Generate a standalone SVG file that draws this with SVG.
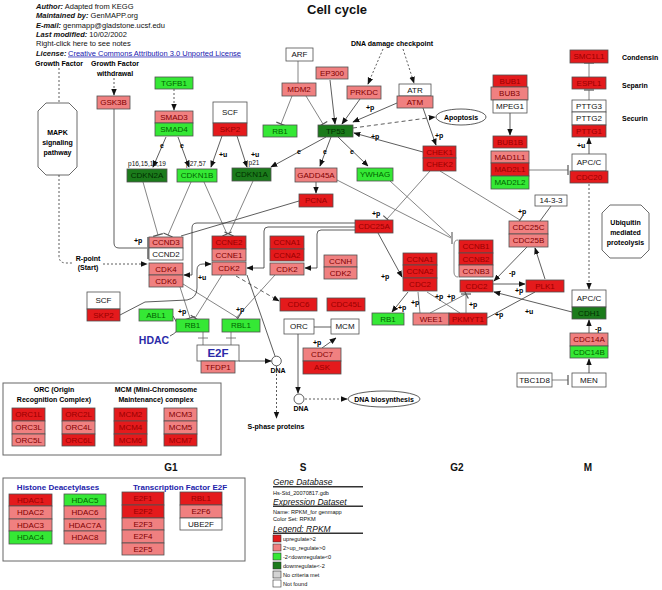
<svg xmlns="http://www.w3.org/2000/svg" width="662" height="590" viewBox="0 0 662 590">
<style>
text{font-family:"Liberation Sans",Arial,sans-serif}
.n rect{stroke:#505050;stroke-width:0.8}
.n text{font-size:8px;text-anchor:middle}
.r rect{fill:#E41A1C}.r text{fill:#990000}
.s rect{fill:#F08080}.s text{fill:#800000}
.g rect{fill:#35E835}.g text{fill:#006400}
.d rect{fill:#1B7B1B}.d text{fill:#003000}
.w rect{fill:#ffffff}.w text{fill:#111}
.c{fill:none;stroke:#333;stroke-width:0.8}
.gl{stroke:#666}
.dot{stroke-dasharray:2,2}
.dash{stroke-dasharray:4,3}
.lb{font-size:7px;font-weight:bold;fill:#000}
.lbc{font-size:7px;font-weight:bold;fill:#000;text-anchor:middle}
.sm{font-size:6.5px;fill:#111;text-anchor:middle}
.hd{font-size:7.5px;fill:#111}
.bi{font-weight:bold;font-style:italic}
.ph{font-size:10px;font-weight:bold;text-anchor:middle;fill:#111}
.bt{font-size:8px;font-weight:bold;fill:#2222AA;text-anchor:middle}
.lg{font-size:8.5px;font-style:italic;fill:#111}
.ls{font-size:5.6px;fill:#111}
.box{fill:none;stroke:#666;stroke-width:1}
</style>
<defs>
<marker id="arr" viewBox="0 0 10 10" refX="9" refY="5" markerWidth="7" markerHeight="7" orient="auto" markerUnits="userSpaceOnUse"><path d="M0,1 L10,5 L0,9 z" fill="#111"/></marker>
<marker id="tee" viewBox="-2 -6 4 12" refX="0" refY="0" markerWidth="4" markerHeight="12" orient="auto" markerUnits="userSpaceOnUse"><path d="M0,-5 V5" stroke="#555" stroke-width="1.2"/></marker>
</defs>
<rect width="662" height="590" fill="#fff"/>

<!-- header -->
<text x="337" y="14" font-size="13" font-weight="bold" text-anchor="middle" fill="#111">Cell cycle</text>
<text class="hd" x="36" y="9"><tspan class="bi">Author:</tspan> Adapted from KEGG</text>
<text class="hd" x="36" y="18.3"><tspan class="bi">Maintained by:</tspan> GenMAPP.org</text>
<text class="hd" x="36" y="27.6"><tspan class="bi">E-mail:</tspan> genmapp@gladstone.ucsf.edu</text>
<text class="hd" x="36" y="37"><tspan class="bi">Last modified:</tspan> 10/02/2002</text>
<text class="hd" x="36" y="46.3">Right-click here to see notes</text>
<text class="hd" x="36" y="55.6"><tspan class="bi">License:</tspan></text>
<text class="hd" x="68" y="55.6" style="fill:#2020B0" text-decoration="underline">Creative Commons Attribution 3.0 Unported License</text>

<!-- free labels -->
<text class="lbc" x="59" y="66">Growth Factor</text>
<text class="lbc" x="115" y="66">Growth Factor</text>
<text class="lbc" x="115" y="76">withdrawal</text>
<text class="lbc" x="392" y="46">DNA damage checkpoint</text>
<text class="lb" x="622" y="60">Condensin</text>
<text class="lb" x="622" y="88">Separin</text>
<text class="lb" x="622" y="121">Securin</text>
<text class="lbc" x="88" y="261">R-point</text>
<text class="lbc" x="88" y="270">(Start)</text>
<text class="sm" x="147" y="166">p16,15,18,19</text>
<text class="sm" x="196" y="166">p27,57</text>
<text class="sm" x="254" y="165">p21</text>
<text x="154" y="344" font-size="10.5" font-weight="bold" fill="#2A2AA8" text-anchor="middle">HDAC</text>
<text class="lbc" x="278" y="373">DNA</text>
<text class="lbc" x="301" y="411">DNA</text>
<text class="lbc" x="276" y="429">S-phase proteins</text>

<g id="mapk"><path d="M46,103 H69 L77,111 V167 L69,175 H46 L38,167 V111 Z" fill="#fff" stroke="#444" stroke-width="0.8"/>
<text class="lbc" x="57.5" y="135">MAPK</text><text class="lbc" x="57.5" y="145">signaling</text><text class="lbc" x="57.5" y="155">pathway</text></g>
<g id="ubiq"><path d="M610,205 H641 L649,213 V250 L641,258 H610 L602,250 V213 Z" fill="#fff" stroke="#444" stroke-width="0.8"/>
<text class="lbc" x="625.5" y="225">Ubiquitin</text><text class="lbc" x="625.5" y="235">mediated</text><text class="lbc" x="625.5" y="245">proteolysis</text></g>
<g id="apoptosis"><ellipse cx="461" cy="117" rx="25" ry="8" fill="#fff" stroke="#333" stroke-width="0.8"/><text class="lbc" x="461" y="120">Apoptosis</text></g>
<g id="dnabio"><ellipse cx="384" cy="399" rx="36" ry="8" fill="#fff" stroke="#333" stroke-width="0.8"/><text class="lbc" x="384" y="402">DNA biosynthesis</text></g>
<g id="dna1"><circle cx="276.5" cy="361" r="4.8" fill="#fff" stroke="#333" stroke-width="0.8"/></g>
<g id="dna2"><circle cx="299" cy="399" r="5" fill="#fff" stroke="#333" stroke-width="0.8"/></g>

<!-- connectors -->
<g id="connectors">
<path class="c dot" d="M59,68 V102"/>
<path class="c dot" d="M114,78 V95" marker-end="url(#arr)"/>
<path class="c dot" d="M174,89 V110" marker-end="url(#arr)"/>
<path class="c dot" d="M59,175 V256 Q59,263 66,263 H73"/>
<path class="c dot" d="M103,264 H147" marker-end="url(#arr)"/>
<path class="c" d="M114,109 V243 Q114,248 119,248 H147"/>
<path d="M148,237 V259" stroke="#888" stroke-width="2" fill="none"/>
<path class="c" d="M166,137 L153,167" marker-end="url(#arr)"/>
<path class="c" d="M178,137 L189,167" marker-end="url(#arr)"/>
<path class="c" d="M222,136 L211,167" marker-end="url(#arr)"/>
<path class="c" d="M237,136 L247,167" marker-end="url(#arr)"/>
<path class="c gl" d="M298,61 V83"/>
<path class="c gl" d="M292,96 L281,124" marker-end="url(#tee)"/>
<path class="c gl" d="M306,96 L323,124" marker-end="url(#tee)"/>
<path class="c" d="M330,80 L335,124" marker-end="url(#arr)"/>
<path class="c" d="M360,99 L342,124" marker-end="url(#arr)"/>
<path class="c dot" d="M383,49 L368,84" marker-end="url(#arr)"/>
<path class="c dot" d="M403,49 L414,83" marker-end="url(#arr)"/>
<path class="c" d="M397,103 L353,122" marker-end="url(#arr)"/>
<path class="c dash" d="M353,128 L435,117" marker-end="url(#arr)"/>
<path class="c" d="M423,152 L354,133" marker-end="url(#arr)"/>
<path class="c" d="M423,108 L436,145" marker-end="url(#arr)"/>
<path class="c" d="M326,137 L271,167" marker-end="url(#arr)"/>
<path class="c" d="M331,137 L320,166" marker-end="url(#arr)"/>
<path class="c" d="M338,137 L368,166" marker-end="url(#arr)"/>
<path class="c" d="M316,182 V193" marker-end="url(#arr)"/>
<path class="c" d="M299,201 L181,236"/>
<path class="c gl" d="M143,182 L158,235" marker-end="url(#tee)"/>
<path class="c gl" d="M191,182 L168,235" marker-end="url(#tee)"/>
<path class="c gl" d="M204,182 L227,234" marker-end="url(#tee)"/>
<path class="c gl" d="M253,181 L229,234" marker-end="url(#tee)"/>
<path class="c" d="M355,223 H197 Q192,223 192,228 V275 H184" marker-end="url(#arr)"/>
<path class="c" d="M355,227 H268 Q264,227 264,231 V268 H247" marker-end="url(#arr)"/>
<path class="c" d="M355,230 H321 Q317,230 317,234 V268 H305" marker-end="url(#arr)"/>
<path class="c" d="M378,233 L402,277" marker-end="url(#arr)"/>
<path class="c gl" d="M430,171 L387,219" marker-end="url(#tee)"/>
<path class="c gl" d="M440,171 L520,220" marker-end="url(#tee)"/>
<path class="c gl" d="M337,180 L451,238"/>
<path class="c gl" d="M390,181 L451,237"/>
<path d="M452,232 V244" stroke="#666" stroke-width="1.2" fill="none"/>
<path d="M458,240 Q454,240 454,245 V272 Q454,277 458,277" stroke="#888" stroke-width="1" fill="none"/>
<path class="c" d="M551,206 L540,221"/>
<path class="c" d="M527,247 L494,281" marker-end="url(#arr)"/>
<path class="c" d="M545,279 L535,248" marker-end="url(#arr)"/>
<path class="c" d="M493,284 H525" marker-end="url(#arr)"/>
<path class="c" d="M572,312 L494,292" marker-end="url(#arr)"/>
<path class="c" d="M487,318 L535,292"/>
<path class="c gl" d="M430,313 L466,294" marker-end="url(#tee)"/>
<path class="c gl" d="M466,313 V294" marker-end="url(#tee)"/>
<path class="c gl" d="M460,313 L427,292"/>
<path class="c gl" d="M420,313 L418,292"/>
<path class="c" d="M408,292 L392,312" marker-end="url(#arr)"/>
<path class="c dash" d="M236,276 L279,301" marker-end="url(#arr)"/>
<path class="c" d="M247,275 L275,356"/>
<path class="c gl" d="M183,284 L238,318" marker-end="url(#tee)"/>
<path class="c gl" d="M180,287 L190,318" marker-end="url(#tee)"/>
<path class="c gl" d="M222,275 L195,318" marker-end="url(#tee)"/>
<path class="c gl" d="M275,275 L236,318"/>
<path class="c" d="M120,315 L145,302 L187,300 Q197,298 197,288 V270 Q197,264 203,264 H211" marker-end="url(#arr)"/>
<path class="c" d="M173,316 L177,323"/>
<path class="c" d="M170,336 Q174,334 177,331"/>
<path class="c gl" d="M203,332 V345 M198,338 H208"/>
<path class="c gl" d="M231,332 V345 M226,338 H236"/>
<path class="c" d="M239,361 H271" marker-end="url(#arr)"/>
<path class="c dot" d="M276.5,366 V418" marker-end="url(#arr)"/>
<path class="c" d="M314,327 H331"/>
<path class="c" d="M322,348 L336,338" marker-end="url(#arr)"/>
<path class="c" d="M298,334 V393" marker-end="url(#arr)"/>
<path class="c dot" d="M305,399 H347" marker-end="url(#arr)"/>
<path class="c gl" d="M529,170 H568" marker-end="url(#tee)"/>
<path class="c" d="M510,113 V135" marker-end="url(#arr)"/>
<path class="c gl" d="M589,77 V63" marker-end="url(#tee)"/>
<path class="c gl" d="M589,100 V90" marker-end="url(#tee)"/>
<path class="c" d="M589,154 V138" marker-end="url(#arr)"/>
<path class="c dot" d="M589,184 V289" marker-end="url(#arr)"/>
<path class="c" d="M589,333 V320" marker-end="url(#arr)"/>
<path class="c" d="M589,373 V359" marker-end="url(#arr)"/>
<path class="c gl" d="M552,380 H568" marker-end="url(#tee)"/>
</g>

<!-- edge labels -->
<g id="edge-labels" fill="#000">
<text class="lb" x="160" y="148">e</text>
<text class="lb" x="180" y="148">e</text>
<text class="lb" x="219" y="157">+u</text>
<text class="lb" x="251" y="157">+u</text>
<text class="lb" x="297" y="154">e</text>
<text class="lb" x="323" y="154">e</text>
<text class="lb" x="350" y="154">e</text>
<text class="lb" x="366" y="110">+p</text>
<text class="lb" x="371" y="139">+p</text>
<text class="lb" x="435" y="138">+p</text>
<text class="lb" x="134" y="243">+p</text>
<text class="lb" x="372" y="216">+p</text>
<text class="lb" x="381" y="279">+p</text>
<text class="lb" x="518" y="214">+p</text>
<text class="lb" x="509" y="275">-p</text>
<text class="lb" x="515" y="293">+p</text>
<text class="lb" x="525" y="314">+u</text>
<text class="lb" x="198" y="280">+u</text>
<text class="lb" x="178" y="314">+p</text>
<text class="lb" x="236" y="312">+p</text>
<text class="lb" x="313" y="345">+p</text>
<text class="lb" x="398" y="310">+p</text>
<text class="lb" x="411" y="305">+p</text>
<text class="lb" x="435" y="299">+p</text>
<text class="lb" x="447" y="299">+p</text>
<text class="lb" x="469" y="307">+p</text>
<text class="lb" x="495" y="317">+p</text>
<text class="lb" x="577" y="148">+u</text>
<text class="lb" x="595" y="331">-p</text>
</g>

<!-- nodes -->
<g id="GSK3B" class="n s"><rect x="97" y="96" width="33" height="13"/><text x="113.5" y="105.3">GSK3B</text></g>
<g id="TGFB1" class="n g"><rect x="155" y="77" width="38" height="12"/><text x="174" y="85.8">TGFB1</text></g>
<g id="SMAD3" class="n s"><rect x="155" y="111" width="38" height="12"/><text x="174" y="119.8">SMAD3</text></g>
<g id="SMAD4" class="n g"><rect x="155" y="123" width="38" height="13"/><text x="174" y="132.3">SMAD4</text></g>
<g id="SCF1" class="n w"><rect x="213" y="102" width="34" height="21"/><text x="230" y="115.3">SCF</text></g>
<g id="SKP2a" class="n r"><rect x="213" y="123" width="34" height="13"/><text x="230" y="132.3">SKP2</text></g>
<g id="ARF" class="n w"><rect x="286" y="48" width="27" height="13"/><text x="299.5" y="57.3">ARF</text></g>
<g id="MDM2" class="n s"><rect x="282" y="83" width="34" height="13"/><text x="299" y="92.3">MDM2</text></g>
<g id="EP300" class="n s"><rect x="316" y="67" width="32" height="12"/><text x="332" y="75.8">EP300</text></g>
<g id="PRKDC" class="n s"><rect x="347" y="86" width="34" height="13"/><text x="364" y="95.3">PRKDC</text></g>
<g id="ATR" class="n w"><rect x="399" y="84" width="32" height="12"/><text x="415" y="92.8">ATR</text></g>
<g id="ATM" class="n s"><rect x="397" y="96" width="36" height="12"/><text x="415" y="104.8">ATM</text></g>
<g id="RB1a" class="n g"><rect x="263" y="125" width="34" height="12"/><text x="280" y="133.8">RB1</text></g>
<g id="TP53" class="n d"><rect x="318" y="125" width="35" height="12"/><text x="335.5" y="133.8">TP53</text></g>
<g id="BUB1" class="n r"><rect x="493" y="75" width="34" height="12"/><text x="510" y="83.8">BUB1</text></g>
<g id="BUB3" class="n s"><rect x="491" y="87" width="37" height="13"/><text x="509.5" y="96.3">BUB3</text></g>
<g id="MPEG1" class="n w"><rect x="493" y="100" width="34" height="13"/><text x="510" y="109.3">MPEG1</text></g>
<g id="BUB1B" class="n r"><rect x="493" y="136" width="34" height="12"/><text x="510" y="144.8">BUB1B</text></g>
<g id="SMC1L1" class="n r"><rect x="570" y="50" width="38" height="13"/><text x="589" y="59.3">SMC1L1</text></g>
<g id="ESPL1" class="n r"><rect x="572" y="77" width="34" height="12"/><text x="589" y="85.8">ESPL1</text></g>
<g id="PTTG3" class="n w"><rect x="572" y="100" width="34" height="12"/><text x="589" y="108.8">PTTG3</text></g>
<g id="PTTG2" class="n w"><rect x="572" y="112" width="34" height="13"/><text x="589" y="121.3">PTTG2</text></g>
<g id="PTTG1" class="n r"><rect x="572" y="125" width="34" height="12"/><text x="589" y="133.8">PTTG1</text></g>
<g id="APCC1" class="n w"><rect x="572" y="154" width="34" height="17"/><text x="589" y="165.3">APC/C</text></g>
<g id="CDC20" class="n r"><rect x="570" y="171" width="38" height="12"/><text x="589" y="179.8">CDC20</text></g>
<g id="CHEK1" class="n r"><rect x="423" y="146" width="33" height="12"/><text x="439.5" y="154.8">CHEK1</text></g>
<g id="CHEK2" class="n r"><rect x="423" y="158" width="33" height="13"/><text x="439.5" y="167.3">CHEK2</text></g>
<g id="MAD1L1" class="n s"><rect x="491" y="151" width="38" height="12"/><text x="510" y="159.8">MAD1L1</text></g>
<g id="MAD2L1" class="n r"><rect x="491" y="163" width="38" height="13"/><text x="510" y="172.3">MAD2L1</text></g>
<g id="MAD2L2" class="n g"><rect x="491" y="176" width="38" height="13"/><text x="510" y="185.3">MAD2L2</text></g>
<g id="CDKN2A" class="n d"><rect x="127" y="169" width="40" height="13"/><text x="147" y="178.3">CDKN2A</text></g>
<g id="CDKN1B" class="n g"><rect x="177" y="169" width="40" height="13"/><text x="197" y="178.3">CDKN1B</text></g>
<g id="CDKN1A" class="n d"><rect x="232" y="168" width="39" height="13"/><text x="251.5" y="177.3">CDKN1A</text></g>
<g id="GADD45A" class="n s"><rect x="295" y="168" width="42" height="14"/><text x="316" y="177.8">GADD45A</text></g>
<g id="YWHAG" class="n g"><rect x="357" y="168" width="36" height="13"/><text x="375" y="177.3">YWHAG</text></g>
<g id="PCNA" class="n r"><rect x="299" y="194" width="34" height="13"/><text x="316" y="203.3">PCNA</text></g>
<g id="CDC25A" class="n r"><rect x="355" y="220" width="38" height="13"/><text x="374" y="229.3">CDC25A</text></g>
<g id="n14-3-3" class="n w"><rect x="535" y="195" width="32" height="11"/><text x="551" y="203.3">14-3-3</text></g>
<g id="CDC25C" class="n s"><rect x="509" y="221" width="39" height="13"/><text x="528.5" y="230.3">CDC25C</text></g>
<g id="CDC25B" class="n s"><rect x="509" y="234" width="39" height="13"/><text x="528.5" y="243.3">CDC25B</text></g>
<g id="CCND3" class="n s"><rect x="149" y="237" width="34" height="11"/><text x="166" y="245.3">CCND3</text></g>
<g id="CCND2" class="n w"><rect x="149" y="248" width="34" height="12"/><text x="166" y="256.8">CCND2</text></g>
<g id="CDK4" class="n s"><rect x="149" y="263" width="34" height="12"/><text x="166" y="271.8">CDK4</text></g>
<g id="CDK6" class="n s"><rect x="149" y="275" width="34" height="12"/><text x="166" y="283.8">CDK6</text></g>
<g id="CCNE2" class="n r"><rect x="212" y="236" width="34" height="13"/><text x="229" y="245.3">CCNE2</text></g>
<g id="CCNE1" class="n s"><rect x="212" y="249" width="34" height="12"/><text x="229" y="257.8">CCNE1</text></g>
<g id="CDK2e" class="n s"><rect x="212" y="262" width="34" height="13"/><text x="229" y="271.3">CDK2</text></g>
<g id="CCNA1m" class="n r"><rect x="270" y="236" width="34" height="13"/><text x="287" y="245.3">CCNA1</text></g>
<g id="CCNA2m" class="n r"><rect x="270" y="249" width="34" height="12"/><text x="287" y="257.8">CCNA2</text></g>
<g id="CDK2a" class="n s"><rect x="270" y="263" width="34" height="12"/><text x="287" y="271.8">CDK2</text></g>
<g id="CCNH" class="n s"><rect x="324" y="255" width="33" height="12"/><text x="340.5" y="263.8">CCNH</text></g>
<g id="CDK2h" class="n s"><rect x="324" y="267" width="33" height="12"/><text x="340.5" y="275.8">CDK2</text></g>
<g id="CCNA1r" class="n r"><rect x="403" y="253" width="34" height="12"/><text x="420" y="261.8">CCNA1</text></g>
<g id="CCNA2r" class="n r"><rect x="403" y="265" width="34" height="13"/><text x="420" y="274.3">CCNA2</text></g>
<g id="CDC2a" class="n r"><rect x="403" y="278" width="34" height="13"/><text x="420" y="287.3">CDC2</text></g>
<g id="CCNB1" class="n r"><rect x="459" y="240" width="34" height="13"/><text x="476" y="249.3">CCNB1</text></g>
<g id="CCNB2" class="n r"><rect x="459" y="253" width="34" height="12"/><text x="476" y="261.8">CCNB2</text></g>
<g id="CCNB3" class="n s"><rect x="459" y="265" width="34" height="12"/><text x="476" y="273.8">CCNB3</text></g>
<g id="CDC2b" class="n r"><rect x="460" y="280" width="33" height="12"/><text x="476.5" y="288.8">CDC2</text></g>
<g id="PLK1" class="n r"><rect x="526" y="280" width="38" height="12"/><text x="545" y="288.8">PLK1</text></g>
<g id="RB1r" class="n g"><rect x="372" y="313" width="32" height="12"/><text x="388" y="321.8">RB1</text></g>
<g id="WEE1" class="n s"><rect x="413" y="313" width="36" height="12"/><text x="431" y="321.8">WEE1</text></g>
<g id="PKMYT1" class="n r"><rect x="449" y="313" width="38" height="12"/><text x="468" y="321.8">PKMYT1</text></g>
<g id="CDC6" class="n r"><rect x="280" y="298" width="37" height="13"/><text x="298.5" y="307.3">CDC6</text></g>
<g id="CDC45L" class="n r"><rect x="327" y="298" width="38" height="13"/><text x="346" y="307.3">CDC45L</text></g>
<g id="ORC" class="n w"><rect x="284" y="319" width="30" height="15"/><text x="299" y="329.3">ORC</text></g>
<g id="MCM" class="n w"><rect x="331" y="319" width="28" height="15"/><text x="345" y="329.3">MCM</text></g>
<g id="CDC7" class="n s"><rect x="303" y="348" width="38" height="13"/><text x="322" y="357.3">CDC7</text></g>
<g id="ASK" class="n r"><rect x="303" y="361" width="38" height="13"/><text x="322" y="370.3">ASK</text></g>
<g id="SCF2" class="n w"><rect x="87" y="292" width="33" height="17"/><text x="103.5" y="303.3">SCF</text></g>
<g id="SKP2b" class="n r"><rect x="87" y="309" width="33" height="12"/><text x="103.5" y="317.8">SKP2</text></g>
<g id="ABL1" class="n g"><rect x="139" y="309" width="34" height="12"/><text x="156" y="317.8">ABL1</text></g>
<g id="RB1l" class="n g"><rect x="176" y="319" width="33" height="13"/><text x="192.5" y="328.3">RB1</text></g>
<g id="RBL1" class="n g"><rect x="222" y="319" width="38" height="13"/><text x="241" y="328.3">RBL1</text></g>
<g id="E2F" class="n w"><rect x="197" y="345" width="42" height="16"/><text x="218" y="357.2" style="font-size:11.5px;font-weight:bold;fill:#2A2AA8">E2F</text></g>
<g id="TFDP1" class="n s"><rect x="201" y="361" width="34" height="12"/><text x="218" y="369.8">TFDP1</text></g>
<g id="APCC2" class="n w"><rect x="572" y="290" width="34" height="17"/><text x="589" y="301.3">APC/C</text></g>
<g id="CDH1" class="n d"><rect x="572" y="307" width="34" height="12"/><text x="589" y="315.8">CDH1</text></g>
<g id="CDC14A" class="n s"><rect x="570" y="333" width="38" height="13"/><text x="589" y="342.3">CDC14A</text></g>
<g id="CDC14B" class="n g"><rect x="570" y="346" width="38" height="12"/><text x="589" y="354.8">CDC14B</text></g>
<g id="MEN" class="n w"><rect x="572" y="373" width="34" height="14"/><text x="589" y="382.8">MEN</text></g>
<g id="TBC1D8" class="n w"><rect x="517" y="373" width="35" height="14"/><text x="534.5" y="382.8">TBC1D8</text></g>

<!-- ORC/MCM box -->
<g id="orcmcm-box">
<rect class="box" x="3" y="383" width="218" height="72"/>
<text class="lbc" x="54" y="392">ORC (Origin</text>
<text class="lbc" x="54" y="402">Recognition Complex)</text>
<text class="lbc" x="156" y="392">MCM (Mini-Chromosome</text>
<text class="lbc" x="156" y="402">Maintenance) complex</text>
</g>
<g id="ORC1L" class="n r"><rect x="12" y="408" width="33" height="13"/><text x="28.5" y="417.3">ORC1L</text></g>
<g id="ORC3L" class="n s"><rect x="12" y="421" width="33" height="13"/><text x="28.5" y="430.3">ORC3L</text></g>
<g id="ORC5L" class="n s"><rect x="12" y="434" width="33" height="12"/><text x="28.5" y="442.8">ORC5L</text></g>
<g id="ORC2L" class="n r"><rect x="62" y="408" width="33" height="13"/><text x="78.5" y="417.3">ORC2L</text></g>
<g id="ORC4L" class="n s"><rect x="62" y="421" width="33" height="13"/><text x="78.5" y="430.3">ORC4L</text></g>
<g id="ORC6L" class="n r"><rect x="62" y="434" width="33" height="12"/><text x="78.5" y="442.8">ORC6L</text></g>
<g id="MCM2" class="n r"><rect x="114" y="408" width="33" height="13"/><text x="130.5" y="417.3">MCM2</text></g>
<g id="MCM4" class="n r"><rect x="114" y="421" width="33" height="13"/><text x="130.5" y="430.3">MCM4</text></g>
<g id="MCM6" class="n r"><rect x="114" y="434" width="33" height="12"/><text x="130.5" y="442.8">MCM6</text></g>
<g id="MCM3" class="n s"><rect x="164" y="408" width="33" height="13"/><text x="180.5" y="417.3">MCM3</text></g>
<g id="MCM5" class="n s"><rect x="164" y="421" width="33" height="13"/><text x="180.5" y="430.3">MCM5</text></g>
<g id="MCM7" class="n r"><rect x="164" y="434" width="33" height="12"/><text x="180.5" y="442.8">MCM7</text></g>

<!-- phases -->
<text class="ph" x="171" y="471">G1</text>
<text class="ph" x="303" y="471">S</text>
<text class="ph" x="457" y="471">G2</text>
<text class="ph" x="588" y="471">M</text>

<!-- HDAC / E2F box -->
<g id="hdac-box">
<rect class="box" x="3" y="478" width="242" height="83"/>
<text class="bt" x="58" y="490">Histone Deacetylases</text>
<text class="bt" x="180" y="490">Transcription Factor E2F</text>
</g>
<g id="HDAC1" class="n r"><rect x="9" y="494" width="43" height="12"/><text x="30.5" y="502.8">HDAC1</text></g>
<g id="HDAC2" class="n s"><rect x="9" y="506" width="43" height="13"/><text x="30.5" y="515.3">HDAC2</text></g>
<g id="HDAC3" class="n s"><rect x="9" y="519" width="43" height="12"/><text x="30.5" y="527.8">HDAC3</text></g>
<g id="HDAC4" class="n g"><rect x="9" y="531" width="43" height="13"/><text x="30.5" y="540.3">HDAC4</text></g>
<g id="HDAC5" class="n g"><rect x="64" y="494" width="42" height="12"/><text x="85" y="502.8">HDAC5</text></g>
<g id="HDAC6" class="n s"><rect x="64" y="506" width="42" height="13"/><text x="85" y="515.3">HDAC6</text></g>
<g id="HDAC7A" class="n s"><rect x="64" y="519" width="42" height="12"/><text x="85" y="527.8">HDAC7A</text></g>
<g id="HDAC8" class="n s"><rect x="64" y="531" width="42" height="13"/><text x="85" y="540.3">HDAC8</text></g>
<g id="E2F1" class="n r"><rect x="122" y="492" width="42" height="13"/><text x="143" y="501.3">E2F1</text></g>
<g id="E2F2" class="n r"><rect x="122" y="505" width="42" height="13"/><text x="143" y="514.3">E2F2</text></g>
<g id="E2F3" class="n s"><rect x="122" y="518" width="42" height="12"/><text x="143" y="526.8">E2F3</text></g>
<g id="E2F4" class="n s"><rect x="122" y="530" width="42" height="13"/><text x="143" y="539.3">E2F4</text></g>
<g id="E2F5" class="n s"><rect x="122" y="543" width="42" height="12"/><text x="143" y="551.8">E2F5</text></g>
<g id="RBL1b" class="n r"><rect x="180" y="492" width="42" height="13"/><text x="201" y="501.3">RBL1</text></g>
<g id="E2F6" class="n s"><rect x="180" y="505" width="42" height="13"/><text x="201" y="514.3">E2F6</text></g>
<g id="UBE2F" class="n w"><rect x="180" y="518" width="42" height="12"/><text x="201" y="526.8">UBE2F</text></g>

<!-- legend -->
<g id="legend">
<text class="lg" x="273" y="485">Gene Database</text>
<rect x="273" y="486" width="90" height="1.5" fill="#333"/>
<text class="ls" x="273" y="494.5">Hs-Std_20070817.gdb</text>
<text class="lg" x="273" y="504.5">Expression Dataset</text>
<rect x="273" y="505.5" width="90" height="1.5" fill="#333"/>
<text class="ls" x="273" y="513.5">Name: RPKM_for genmapp</text>
<text class="ls" x="273" y="520.5">Color Set: RPKM</text>
<text class="lg" x="273" y="531.5">Legend: RPKM</text>
<rect x="273" y="532.5" width="90" height="1.5" fill="#333"/>
<rect x="273" y="535" width="8" height="7" fill="#E41A1C" stroke="#333" stroke-width="0.6"/>
<text class="ls" x="283" y="541">upregulate&gt;2</text>
<rect x="273" y="544" width="8" height="7" fill="#F08080" stroke="#333" stroke-width="0.6"/>
<text class="ls" x="283" y="550">2&gt;up_regulate&gt;0</text>
<rect x="273" y="553" width="8" height="7" fill="#35E835" stroke="#333" stroke-width="0.6"/>
<text class="ls" x="283" y="559">-2&lt;downregulate&lt;0</text>
<rect x="273" y="562" width="8" height="7" fill="#1B7B1B" stroke="#333" stroke-width="0.6"/>
<text class="ls" x="283" y="568">downregulate&lt;-2</text>
<rect x="273" y="571" width="8" height="7" fill="#D3D3D3" stroke="#333" stroke-width="0.6"/>
<text class="ls" x="283" y="577">No criteria met</text>
<rect x="273" y="580" width="8" height="7" fill="#fff" stroke="#333" stroke-width="0.6"/>
<text class="ls" x="283" y="586">Not found</text>
</g>
</svg>
